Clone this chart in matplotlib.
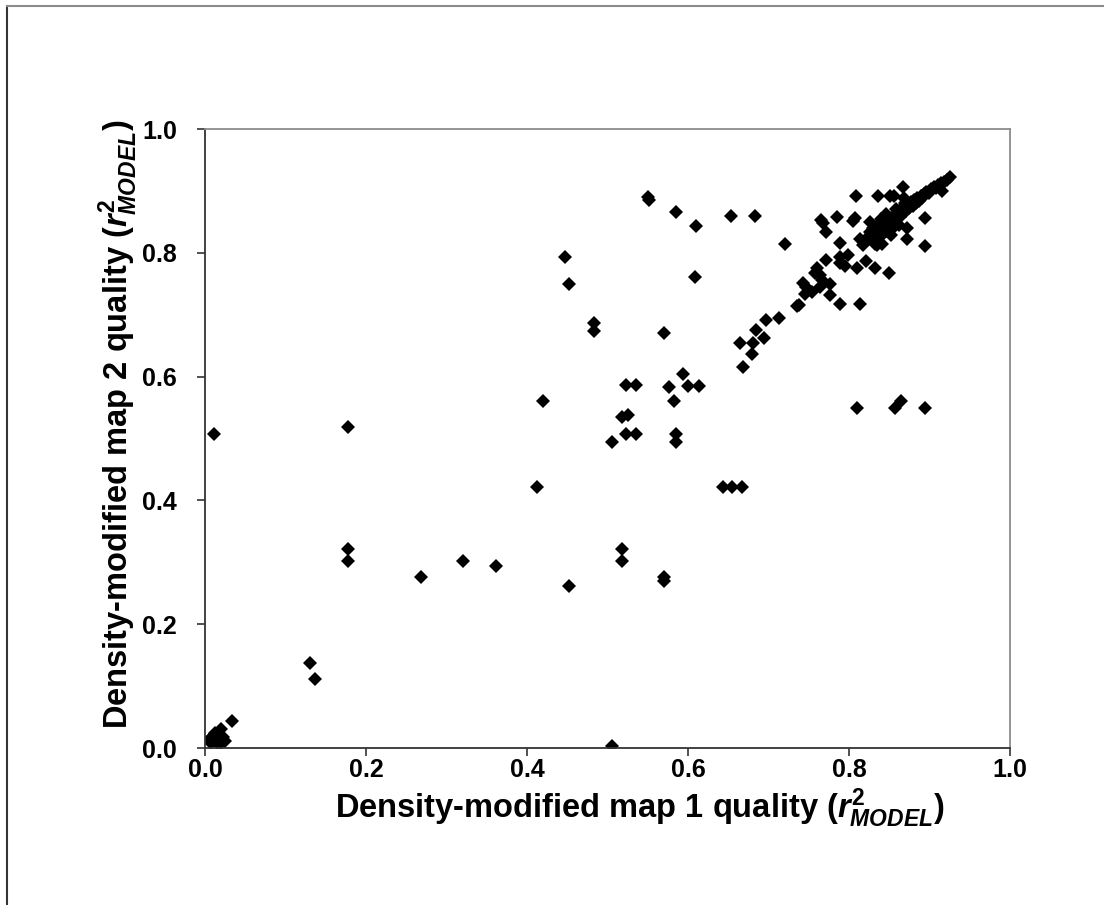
import numpy as np
import matplotlib.pyplot as plt
from matplotlib.lines import Line2D

plt.rcParams['font.family'] = ['Liberation Sans', 'DejaVu Sans']
plt.rcParams['font.weight'] = 'bold'
plt.rcParams['mathtext.fontset'] = 'custom'
plt.rcParams['mathtext.rm'] = 'Liberation Sans:bold'
plt.rcParams['mathtext.it'] = 'Liberation Sans:bold:italic'
plt.rcParams['mathtext.bf'] = 'Liberation Sans:bold'

# map 1 quality (x) vs map 2 quality (y)
map1 = [
    # near zero
    0.006, 0.010, 0.015, 0.020, 0.022, 0.018, 0.008, 0.012, 0.025, 0.034, 0.011,
    # low / middle
    0.130, 0.137, 0.178, 0.178, 0.178, 0.268, 0.320, 0.362,
    0.412, 0.420, 0.447, 0.452, 0.452, 0.483, 0.483, 0.505, 0.505,
    0.518, 0.518, 0.518, 0.525, 0.523, 0.536, 0.523, 0.536,
    0.550, 0.551, 0.570, 0.570, 0.570, 0.577, 0.583, 0.585, 0.585, 0.585,
    0.594, 0.600, 0.614, 0.609, 0.610,
    0.643, 0.655, 0.667, 0.653, 0.683,
    0.665, 0.681, 0.668, 0.680, 0.684, 0.697, 0.695, 0.713, 0.720, 0.736,
    # upper band
    0.738, 0.745, 0.743, 0.747, 0.754, 0.758, 0.760, 0.764, 0.766, 0.764,
    0.771, 0.776, 0.776, 0.789, 0.789, 0.795, 0.789, 0.799, 0.810, 0.814,
    0.821, 0.832, 0.850, 0.765, 0.768, 0.771, 0.785, 0.805, 0.807, 0.789,
    0.809, 0.836, 0.851, 0.856, 0.867, 0.894, 0.894, 0.872, 0.872, 0.814,
    0.810, 0.857, 0.865, 0.895,
    # dense diagonal
    0.820, 0.823, 0.826, 0.828, 0.830, 0.832, 0.834, 0.836, 0.838, 0.840,
    0.842, 0.843, 0.845, 0.847, 0.848, 0.850, 0.852, 0.854, 0.855, 0.857,
    0.859, 0.861, 0.863, 0.865, 0.867, 0.869, 0.871, 0.873, 0.875, 0.877,
    0.879, 0.881, 0.883, 0.885, 0.887, 0.889, 0.891, 0.893, 0.896, 0.899,
    0.902, 0.905, 0.908, 0.911, 0.914, 0.916, 0.918, 0.922, 0.925, 0.835,
    0.841, 0.826, 0.840, 0.846, 0.858, 0.852, 0.870, 0.868, 0.862, 0.832,
    0.818,
]
map2 = [
    0.015, 0.020, 0.010, 0.030, 0.018, 0.005, 0.008, 0.025, 0.012, 0.044, 0.507,
    0.138, 0.112, 0.518, 0.321, 0.302, 0.276, 0.302, 0.294,
    0.422, 0.561, 0.793, 0.750, 0.262, 0.686, 0.674, 0.495, 0.003,
    0.321, 0.302, 0.534, 0.538, 0.586, 0.586, 0.507, 0.507,
    0.890, 0.886, 0.670, 0.276, 0.270, 0.583, 0.561, 0.866, 0.508, 0.495,
    0.604, 0.585, 0.585, 0.761, 0.843,
    0.422, 0.422, 0.422, 0.860, 0.859,
    0.655, 0.655, 0.616, 0.636, 0.675, 0.692, 0.663, 0.695, 0.814, 0.714,
    0.715, 0.733, 0.751, 0.745, 0.737, 0.767, 0.775, 0.764, 0.756, 0.745,
    0.788, 0.750, 0.732, 0.718, 0.794, 0.779, 0.783, 0.796, 0.776, 0.718,
    0.787, 0.776, 0.768, 0.853, 0.848, 0.834, 0.858, 0.851, 0.856, 0.816,
    0.891, 0.892, 0.891, 0.891, 0.907, 0.857, 0.811, 0.840, 0.822, 0.823,
    0.550, 0.550, 0.560, 0.550,
    0.818, 0.826, 0.833, 0.822, 0.840, 0.829, 0.836, 0.845, 0.826, 0.838,
    0.832, 0.848, 0.842, 0.835, 0.852, 0.846, 0.856, 0.849, 0.840, 0.860,
    0.853, 0.866, 0.858, 0.870, 0.864, 0.874, 0.868, 0.878, 0.872, 0.882,
    0.876, 0.885, 0.880, 0.888, 0.884, 0.892, 0.888, 0.895, 0.899, 0.897,
    0.903, 0.906, 0.905, 0.910, 0.912, 0.900, 0.915, 0.918, 0.922, 0.812,
    0.815, 0.850, 0.855, 0.862, 0.870, 0.828, 0.880, 0.888, 0.845, 0.815,
    0.812,
]

ticks = [0.0, 0.2, 0.4, 0.6, 0.8, 1.0]

fig = plt.figure(figsize=(11.04, 9.05), dpi=100)
ax = fig.add_axes([205 / 1104, 1 - 748 / 905, 805 / 1104, 619 / 905])

ax.plot(map1, map2, ls='none', marker='D', ms=7.4, mew=0, color='black')

ax.set_xlim(0, 1)
ax.set_ylim(0, 1)
ax.set_xticks(ticks)
ax.set_yticks(ticks)
ax.set_xticklabels([f'{t:.1f}' for t in ticks], fontsize=18, fontweight='bold')
ax.set_yticklabels([f'{t:.1f}' for t in ticks], fontsize=18, fontweight='bold')
ax.tick_params(direction='out', length=6, width=1.2, color='#333333')
ax.tick_params(axis='x', pad=1.5)
ax.tick_params(axis='y', pad=14)

for side in ['left', 'bottom']:
    ax.spines[side].set_color('#333333')
    ax.spines[side].set_linewidth(1.3)
for side in ['top', 'right']:
    ax.spines[side].set_color('#8c8c8c')
    ax.spines[side].set_linewidth(1.3)

ax.set_xlabel(r'Density-modified map 1 quality ($\mathit{r}^{2}_{\mathit{MODEL}}$)',
              fontsize=23.5, fontweight='bold', va='center')
ax.set_ylabel(r'Density-modified map 2 quality ($\mathit{r}^{2}_{\mathit{MODEL}}$)',
              fontsize=23.5, fontweight='bold', va='center')
ax.xaxis.set_label_coords(0.54, -0.097)
ax.yaxis.set_label_coords(-0.108, 0.523)

# outer frame (left and top edges only visible)
fig.add_artist(Line2D([7 / 1104, 7 / 1104], [0, 1 - 6 / 905],
                      transform=fig.transFigure, color='#333333', lw=1.5))
fig.add_artist(Line2D([7 / 1104, 1], [1 - 6 / 905, 1 - 6 / 905],
                      transform=fig.transFigure, color='#8c8c8c', lw=1.5))

fig.savefig('out.png', dpi=100)
